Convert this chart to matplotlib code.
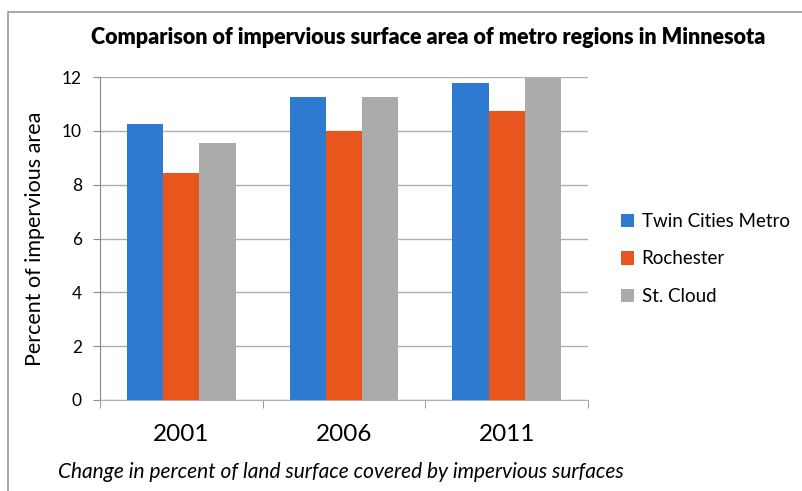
import matplotlib
matplotlib.use("Agg")
import matplotlib.pyplot as plt
from matplotlib.patches import Rectangle
import numpy as np

years = ["2001", "2006", "2011"]
series = ["Twin Cities Metro", "Rochester", "St. Cloud"]
twin_cities = [10.25, 11.25, 11.78]
rochester = [8.45, 10.0, 10.75]
st_cloud = [9.55, 11.25, 11.97]
colors = ["#2E7AD1", "#E8561E", "#ABABAB"]

plt.rcParams["font.family"] = ["Lato", "DejaVu Sans"]

fig = plt.figure(figsize=(8.02, 4.91), dpi=100)
W, H = 802, 491

# outer frame of the chart area
fig.patches.append(Rectangle((8 / W, -0.1), 1.0, 1 - 12 / H + 0.1,
                             transform=fig.transFigure, fill=False,
                             edgecolor="#9A9A9A", linewidth=1.2))

ax = fig.add_axes([100 / W, 1 - 400 / H, 488 / W, 323 / H])

x = np.arange(len(years))
bw = 0.222
for i, (vals, name) in enumerate(zip([twin_cities, rochester, st_cloud], series)):
    ax.bar(x + (i - 1) * bw, vals, width=bw, color=colors[i], label=name, zorder=3)

ax.set_xlim(-0.5, 2.5)
ax.set_ylim(0, 12)
ax.set_yticks(range(0, 13, 2))
ax.set_xticks(x)
ax.set_xticklabels(years, fontsize=17.5)
ax.set_xticks([-0.5, 0.5, 1.5, 2.5], minor=True)
ax.tick_params(axis="x", which="major", length=0, pad=17)
ax.tick_params(axis="x", which="minor", length=6, color="#8A8A8A", direction="out")
ax.tick_params(axis="y", length=5, color="#8A8A8A", labelsize=12.5, pad=8)
ax.grid(axis="y", color="#AFAFAF", linewidth=1.0, zorder=0)

for s in ["top", "right"]:
    ax.spines[s].set_visible(False)
ax.spines["left"].set_color("#8A8A8A")
ax.spines["bottom"].set_color("#AFAFAF")

ax.set_ylabel("Percent of impervious area", fontsize=15.5, labelpad=12)

fig.text(428 / W, 1 - 37 / H, "Comparison of impervious surface area of metro regions in Minnesota",
         ha="center", va="center", fontsize=15.5, fontweight="heavy")
fig.text(58 / W, 1 - 472 / H, "Change in percent of land surface covered by impervious surfaces",
         ha="left", va="center", fontsize=15, style="italic")

ax.legend(loc="center left", bbox_to_anchor=(604 / W, 1 - 259 / H), bbox_transform=fig.transFigure,
          frameon=False, fontsize=13.5, handlelength=0.7, handleheight=0.7,
          handletextpad=0.4, labelspacing=1.1)

fig.savefig("out.png", dpi=100, facecolor="white")
